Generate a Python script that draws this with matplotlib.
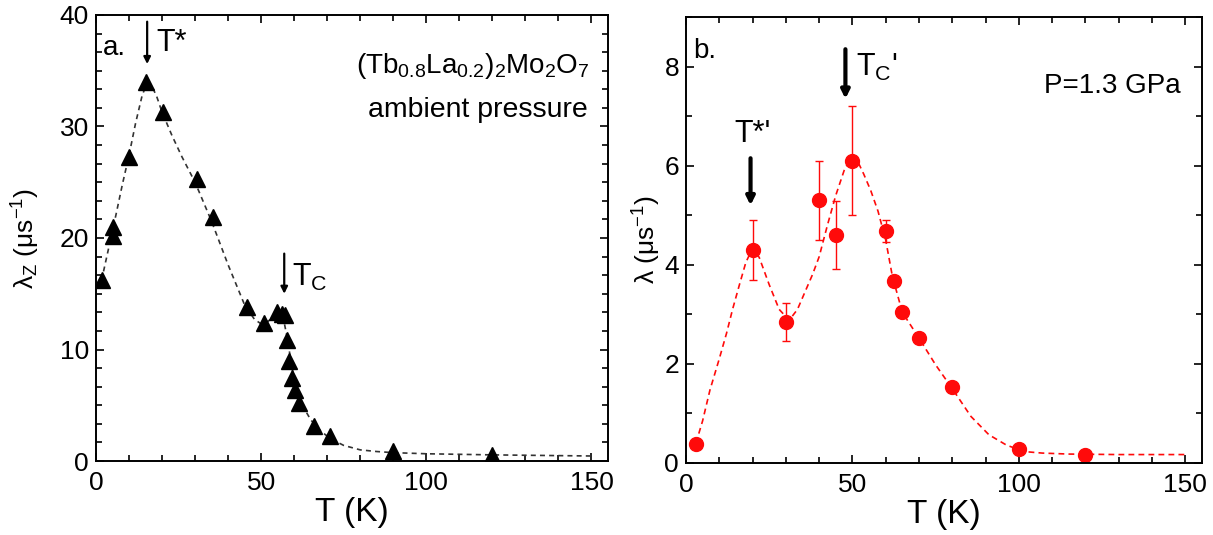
import numpy as np
import matplotlib.pyplot as plt
from matplotlib.ticker import MultipleLocator, AutoMinorLocator

plt.rcParams['font.family'] = ['Liberation Sans', 'DejaVu Sans']
plt.rcParams['mathtext.fontset'] = 'custom'
plt.rcParams['mathtext.rm'] = 'Liberation Sans'
plt.rcParams['mathtext.it'] = 'Liberation Sans'

# panel a: ambient pressure, lambda_Z vs T
T_a = [1.7, 5.2, 5.2, 10.1, 15.2, 20.4, 30.5, 35.5, 45.7, 50.9, 54.8, 56.3,
       57.3, 57.8, 58.4, 59.2, 60.3, 61.6, 65.9, 70.9, 90.0, 120.0]
lam_a = [16.2, 20.2, 21.0, 27.3, 34.0, 31.3, 25.3, 21.9, 13.8, 12.4, 13.4, 13.2,
         13.1, 10.85, 9.0, 7.4, 6.4, 5.2, 3.1, 2.2, 0.9, 0.5]

# guide-to-the-eye dashed curve
curve_T_a = [1.7, 4, 6, 8, 10, 12, 14, 15.5, 17, 18.5, 20, 23, 26, 30, 35, 40,
             45, 48, 50, 52, 54, 56, 57, 58, 59, 60, 61, 62.5, 65, 68, 71, 75,
             80, 85, 90, 100, 110, 120, 135, 150]
curve_lam_a = [16.2, 19.3, 22.0, 24.8, 27.4, 30.3, 32.8, 33.9, 33.6, 32.6, 31.3,
               29.2, 27.3, 25.0, 21.5, 17.6, 14.0, 12.7, 12.3, 12.5, 13.0, 13.1,
               12.4, 10.9, 9.0, 7.3, 6.1, 5.0, 3.7, 2.7, 2.0, 1.4, 1.0, 0.85,
               0.75, 0.65, 0.6, 0.55, 0.5, 0.45]

# panel b: P = 1.3 GPa
T_b = [3, 20, 30, 40, 45, 50, 60, 62.5, 65, 70, 80, 100, 120]
lam_b = [0.39, 4.3, 2.84, 5.3, 4.6, 6.1, 4.68, 3.68, 3.04, 2.52, 1.53, 0.29, 0.16]
err_b = [0, 0.6, 0.38, 0.8, 0.69, 1.1, 0.22, 0.1, 0, 0, 0, 0, 0]

curve_T_b = [3, 5, 7.2, 10, 12.2, 14, 16.2, 18, 20, 22, 25, 28, 31, 33.5, 36,
             38, 40, 42.5, 45, 47.5, 49.6, 51.5, 53.4, 55.5, 57.7, 60, 62, 65,
             70, 75, 80, 85.6, 91, 96.3, 101.7, 107, 115, 130, 150]
curve_lam_b = [0.4, 0.85, 1.47, 2.1, 2.62, 3.1, 3.63, 4.05, 4.33, 4.15, 3.6,
               3.1, 2.88, 3.1, 3.49, 3.8, 4.16, 4.8, 5.4, 5.9, 6.17, 6.1, 5.83,
               5.5, 5.08, 4.5, 3.77, 3.04, 2.52, 1.98, 1.5, 0.94, 0.57, 0.36,
               0.23, 0.2, 0.18, 0.17, 0.17]

fig = plt.figure(figsize=(12.13, 5.35), dpi=100)
ax1 = fig.add_axes([0.0791, 0.1383, 0.4221, 0.8337])
ax2 = fig.add_axes([0.5655, 0.1346, 0.4254, 0.8336])

red = '#ff0a0a'

def style(ax, xlim, ylim, ymaj, yminor_n):
    ax.set_xlim(*xlim)
    ax.set_ylim(*ylim)
    ax.xaxis.set_major_locator(MultipleLocator(50))
    ax.xaxis.set_minor_locator(MultipleLocator(10))
    ax.yaxis.set_major_locator(MultipleLocator(ymaj))
    ax.yaxis.set_minor_locator(AutoMinorLocator(yminor_n))
    ax.tick_params(which='both', direction='in', top=True, right=True,
                   labelsize=19, width=1.2, pad=5)
    ax.tick_params(axis='x', which='both', pad=7)
    ax.tick_params(which='major', length=6)
    ax.tick_params(which='minor', length=4.5)
    for s in ax.spines.values():
        s.set_linewidth(1.4)
    ax.set_xlabel('T (K)', fontsize=24)
    ax.xaxis.set_label_coords(0.5, -0.08)

# ---- panel a ----
style(ax1, (0, 155), (0, 40), 10, 6)
ax1.plot(curve_T_a, curve_lam_a, ls=(0, (3, 2.5)), color='#333333', lw=1.2)
ax1.plot(T_a, lam_a, ls='none', marker='^', ms=11, color='black')
ax1.set_ylabel(r'λ$_{\mathregular{Z}}$ (μs$^{\mathregular{-1}}$)', fontsize=19)
ax1.yaxis.set_label_coords(-0.105, 0.5)

ax1.text(2, 37, 'a.', fontsize=20, va='center')
ax1.annotate('', xy=(15.5, 35.6), xytext=(15.5, 39.4),
             arrowprops=dict(arrowstyle='-|>', color='black', lw=1.6,
                             mutation_scale=10, shrinkA=0, shrinkB=0))
ax1.text(18.2, 37.5, 'T*', fontsize=22, va='center')
ax1.annotate('', xy=(57, 15.0), xytext=(57, 18.6),
             arrowprops=dict(arrowstyle='-|>', color='black', lw=1.6,
                             mutation_scale=10, shrinkA=0, shrinkB=0))
ax1.text(59.3, 16.5, r'T$_{\mathregular{C}}$', fontsize=22, va='center')
ax1.text(149.5, 35.4, r'(Tb$_{0.8}$La$_{0.2}$)$_2$Mo$_2$O$_7$', fontsize=20,
         ha='right', va='center')
ax1.text(149, 31.5, 'ambient pressure', fontsize=20.5, ha='right', va='center')

# ---- panel b ----
style(ax2, (0, 155), (0, 9), 2, 2)
ax2.plot(curve_T_b, curve_lam_b, ls=(0, (3.5, 2.5)), color=red, lw=1.2)
ax2.errorbar(T_b, lam_b, yerr=err_b, fmt='o', ms=10, color=red, ecolor=red,
             elinewidth=1.0, capsize=3, capthick=1.0)
ax2.set_ylabel(r'λ (μs$^{\mathregular{-1}}$)', fontsize=19)
ax2.yaxis.set_label_coords(-0.045, 0.5)

ax2.text(2.2, 8.32, 'b.', fontsize=20, va='center')
ax2.text(148.5, 7.6, 'P=1.3 GPa', fontsize=20, ha='right', va='center')
ax2.annotate('', xy=(47.9, 7.35), xytext=(47.9, 8.35),
             arrowprops=dict(arrowstyle='-|>', color='black', lw=3,
                             mutation_scale=12, shrinkA=0, shrinkB=0))
ax2.text(51.0, 7.98, r"T$_{\mathregular{C}}$'", fontsize=22, va='center')
ax2.annotate('', xy=(19.4, 5.2), xytext=(19.4, 6.15),
             arrowprops=dict(arrowstyle='-|>', color='black', lw=3,
                             mutation_scale=12, shrinkA=0, shrinkB=0))
ax2.text(20, 6.63, "T*'", fontsize=22, ha='center', va='center')

fig.savefig('out.png', dpi=100)
